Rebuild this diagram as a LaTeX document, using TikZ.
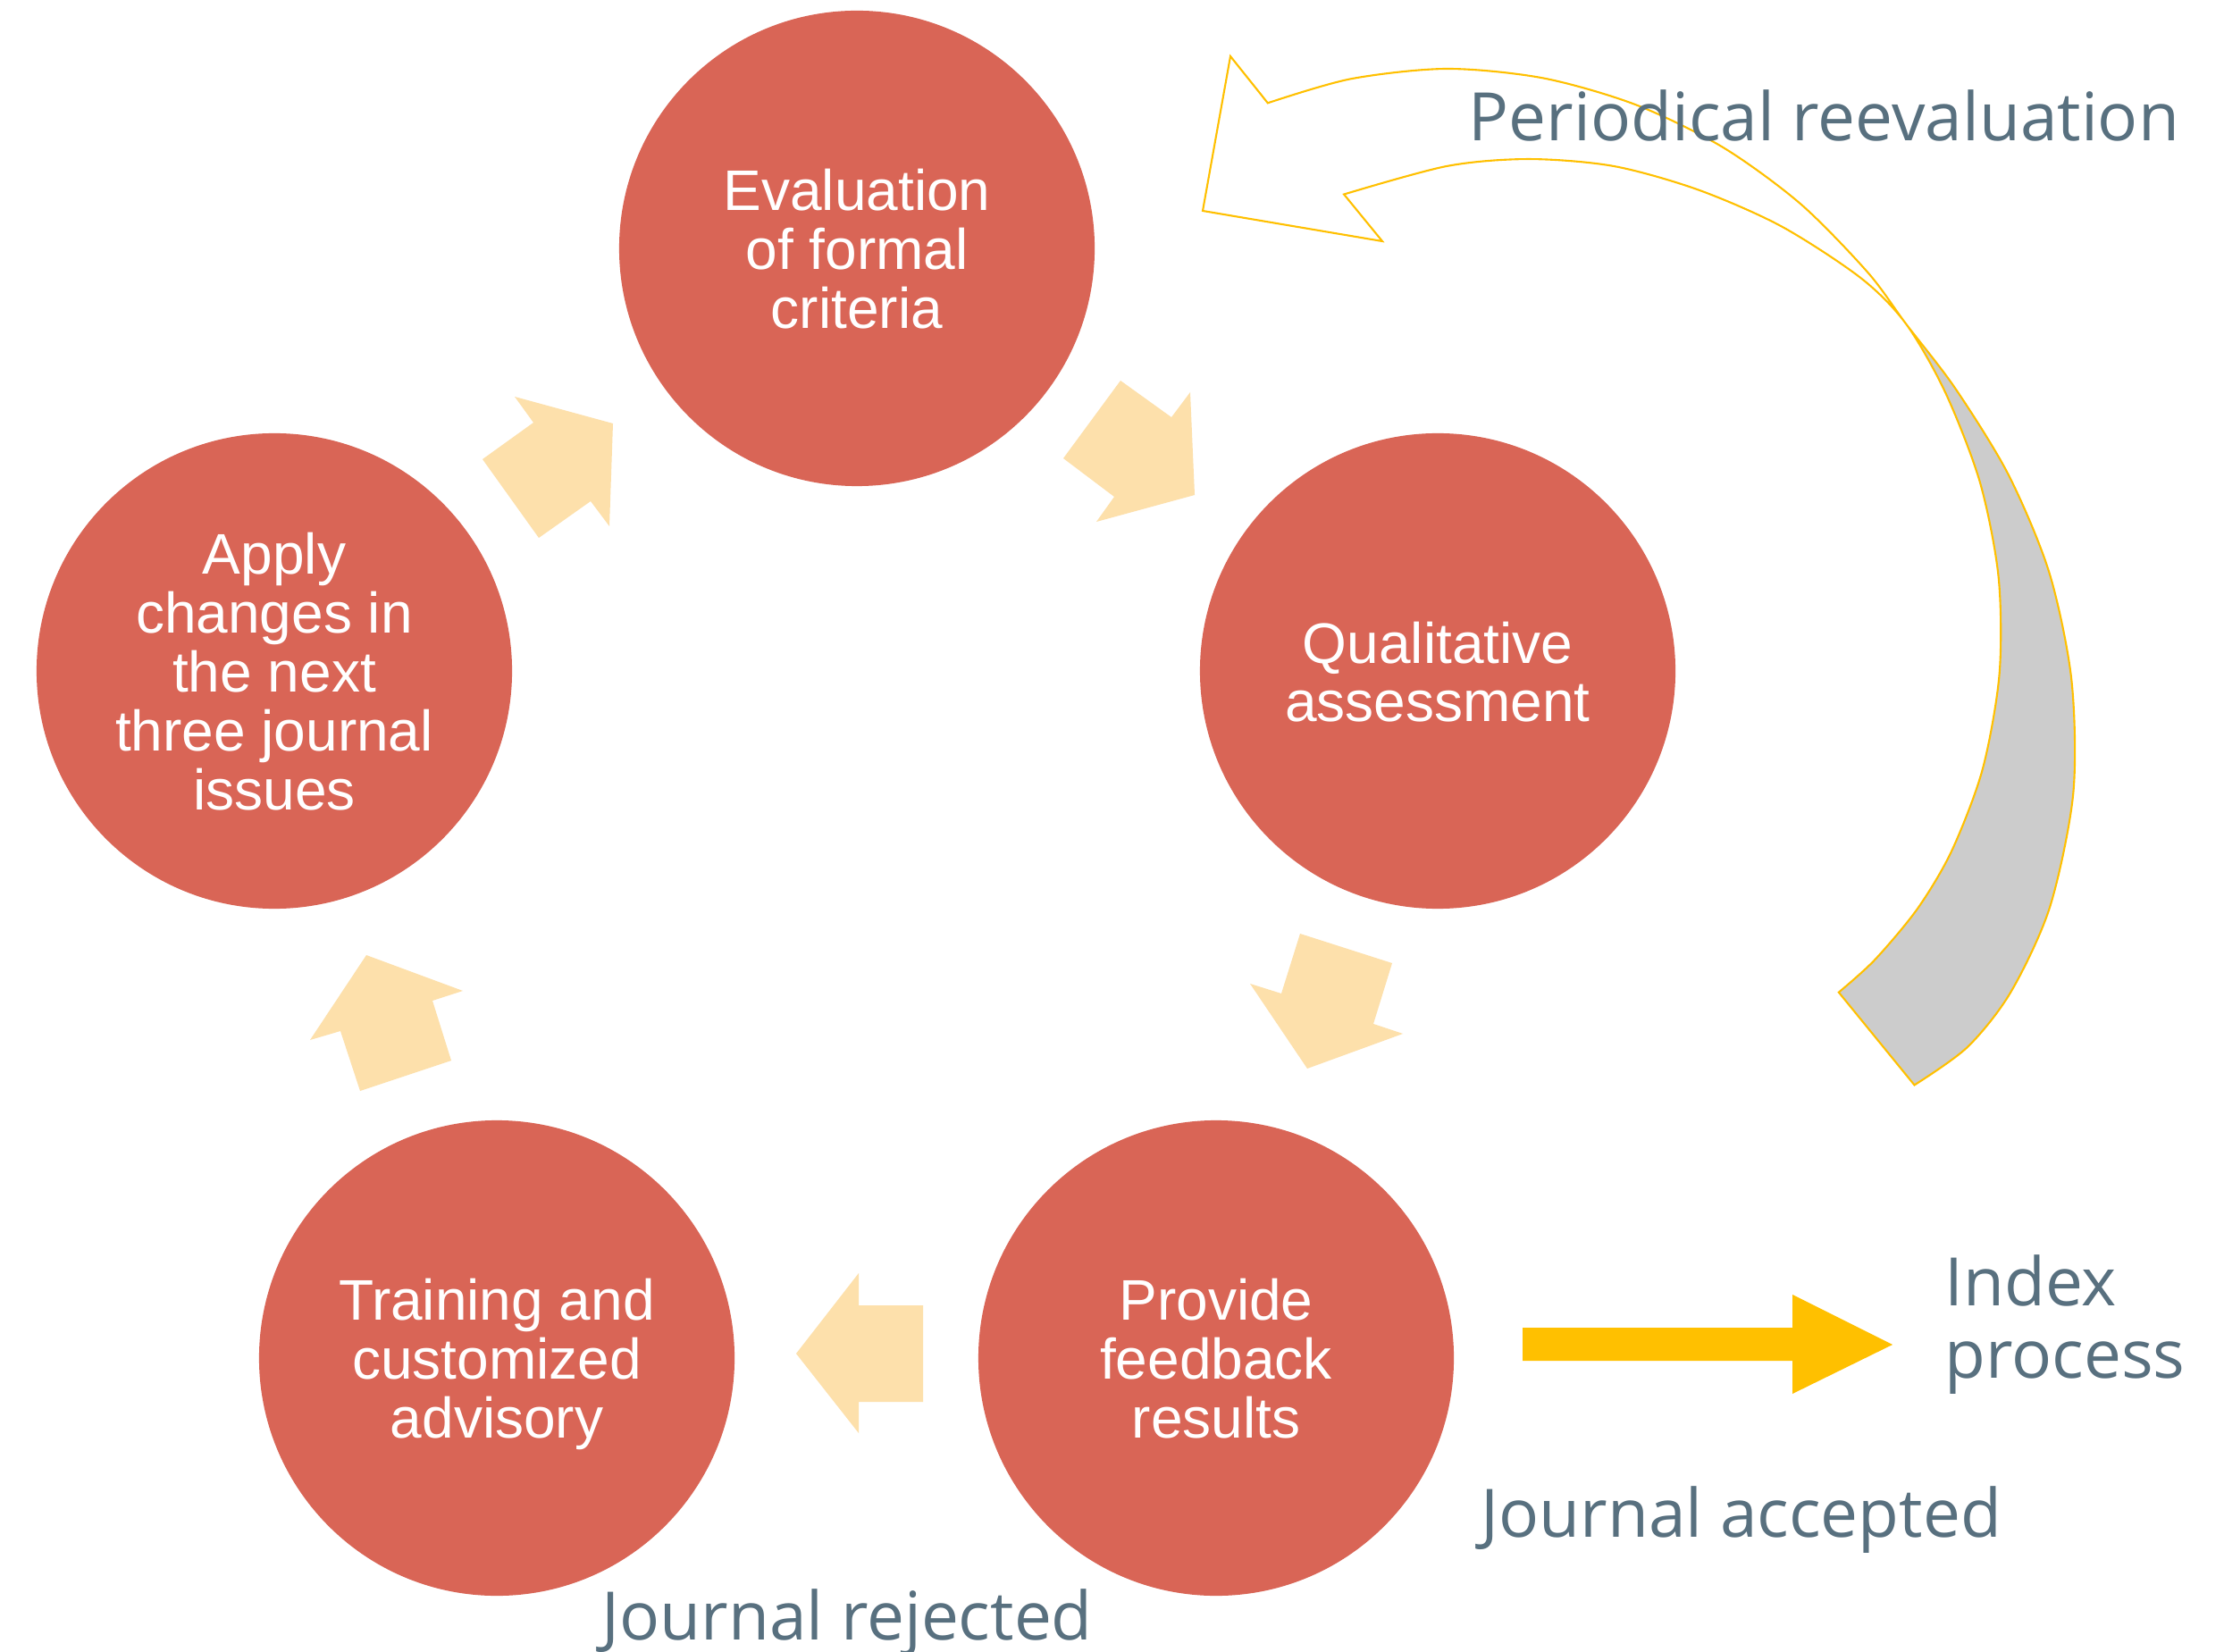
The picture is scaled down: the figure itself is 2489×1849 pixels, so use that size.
\documentclass[tikz,border=0pt]{standalone}
\usepackage{fontspec}
\setmainfont{Liberation Sans}
\newfontfamily\osans{Open Sans}
\definecolor{circfill}{HTML}{D96556}
\definecolor{chevfill}{HTML}{FDE0AB}
\definecolor{labelcol}{HTML}{58707F}
\definecolor{goldline}{HTML}{FFC000}
\definecolor{greyband}{HTML}{CCCCCC}
\begin{document}
\begin{tikzpicture}[x=0.0125cm,y=-0.0125cm,
  circ/.style={circle,fill=circfill,draw=none,minimum size=6.65cm,inner sep=0pt},
  ctext/.style={text=white,inner sep=0pt,font=\fontsize{22.76pt}{23.26pt}\selectfont},
  chev/.style={fill=chevfill},
  lbl/.style={text=labelcol,inner sep=0pt,font=\osans\fontsize{26.6pt}{28.8pt}\selectfont},
  band/.style={draw=goldline,line width=0.75pt,line join=miter}]
\useasboundingbox (0,0) rectangle (2489,1849);
\fill[white] (0,0) rectangle (2489,1849);

% big curved arrow (periodical reevaluation), centred on (1619,700)
\begin{scope}[shift={(1619,700)}]
  \begin{scope}
    \clip (1672,-1098) -- (2770,574) -- (262,2221) -- (-836,549) -- cycle;
    \fill[greyband]
      plot[smooth] coordinates {(-108.9:618) (-100:621) (-90:623) (-80:622) (-70:620) (-60:618) (-50:616) (-40:615) (-33.3:615) (-25:628) (-15:651) (-5:677) (5:702) (15:726) (25:745) (33:753) (39:750) (44.5:734)}
      -- plot[smooth] coordinates {(43.1:601) (38:608) (31:615) (24:619) (15:621) (5:621) (-5:620) (-15:618) (-25:616) (-33.3:615) (-40:605) (-50:583) (-60:563) (-70:547) (-80:530) (-90:514) (-103.4:496)}
      -- (-72,-430) -- (-273,-464) -- (-242,-637) -- cycle;
  \end{scope}
  \draw[band]
    plot[smooth] coordinates {(-108.9:618) (-100:621) (-90:623) (-80:622) (-70:620) (-60:618) (-50:616) (-40:615) (-33.3:615) (-25:628) (-15:651) (-5:677) (5:702) (15:726) (25:745) (33:753) (39:750) (44.5:734)}
    -- plot[smooth] coordinates {(43.1:601) (38:608) (31:615) (24:619) (15:621) (5:621) (-5:620) (-15:618) (-25:616) (-33.3:615) (-40:605) (-50:583) (-60:563) (-70:547) (-80:530) (-90:514) (-103.4:496)}
    -- (-72,-430) -- (-273,-464) -- (-242,-637) -- cycle;
\end{scope}

% circles
\node[circ] (c1) at (959,278) {};
\node[circ] (c2) at (1609,751) {};
\node[circ] (c3) at (1361,1520) {};
\node[circ] (c4) at (556,1520) {};
\node[circ] (c5) at (307,751) {};

\node[ctext] (t1) at (959,288.5) {\begin{tabular}{@{}c@{}}Evaluation\\of formal\\criteria\end{tabular}};
\node[ctext] (t2) at (1609,761.5) {\begin{tabular}{@{}c@{}}Qualitative\\assessment\end{tabular}};
\node[ctext] (t3) at (1361,1530.5) {\begin{tabular}{@{}c@{}}Provide\\feedback\\results\end{tabular}};
\node[ctext] (t4) at (556,1530.5) {\begin{tabular}{@{}c@{}}Training and\\customized\\advisory\end{tabular}};
\node[ctext] (t5) at (307,761.5) {\begin{tabular}{@{}c@{}}Apply\\changes in\\the next\\three journal\\issues\end{tabular}};

% cycle chevrons
\fill[chev] (1254,426) -- (1311,467) -- (1332,439) -- (1337,554) -- (1227,584) -- (1247,556) -- (1190,513) -- cycle;
\fill[chev] (1455,1045) -- (1558,1078) -- (1537,1146) -- (1570,1157) -- (1463,1196) -- (1399,1101) -- (1434,1112) -- cycle;
\fill[chev] (1033,1461) -- (1033,1569) -- (961,1569) -- (961,1604) -- (891,1515) -- (961,1425) -- (961,1461) -- cycle;
\fill[chev] (505,1187) -- (484,1120) -- (518,1109) -- (410,1069) -- (347,1164) -- (381,1154) -- (403,1221) -- cycle;
\fill[chev] (540,514) -- (597,473) -- (576,444) -- (686,474) -- (682,589) -- (661,561) -- (603,602) -- cycle;

% index arrow
\fill[goldline] (1704,1486) -- (2006,1486) -- (2006,1449) -- (2118,1505) -- (2006,1560) -- (2006,1523) -- (1704,1523) -- cycle;

% labels
\node[lbl,anchor=base west] (lper) at (1643,158) {Periodical reevaluation};
\node[lbl,anchor=base west] (lacc) at (1657,1720) {Journal accepted};
\node[lbl,anchor=base west] (lrej) at (673,1835) {Journal rejected};
\node[lbl,anchor=base west] (lidx) at (2176,1542) {\begin{tabular}[b]{@{}l@{}}Index\\process\end{tabular}};
\end{tikzpicture}
\end{document}
